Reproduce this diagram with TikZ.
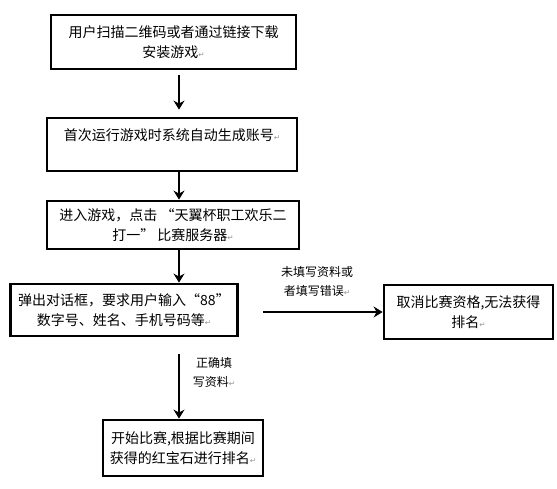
\documentclass[tikz,border=0pt]{standalone}
\usepackage{fontspec}
\setmainfont{Noto Sans CJK SC}
\newfontfamily\markfont{DejaVu Sans}
\usetikzlibrary{arrows.meta}
\definecolor{markGray}{RGB}{150,150,150}
\newcommand{\RetMark}{{\markfont\fontsize{7.5}{7.5}\selectfont\color{markGray}↵}}

\begin{document}
\begin{tikzpicture}[x=1pt,y=1pt,
  stepbox/.style={draw=black,line width=2.8pt,fill=white,align=center,inner sep=2pt,font=\fontsize{14}{20}\selectfont},
  flowarrow/.style={line width=2.8pt,-{Stealth[length=9pt,width=11pt,inset=3pt]}},
  notelabel/.style={align=center,inner sep=1pt,font=\fontsize{12}{19}\selectfont}]
\useasboundingbox (0,0) rectangle (557,-488);
\fill[white] (0,0) rectangle (557,-488);
\coordinate (flowcol) at (179,0);
\node[stepbox,minimum width=245,minimum height=54] (download) at (173.5,-42) {用户扫描二维码或者通过链接下载\\安装游戏\RetMark};
\node[stepbox,minimum width=250,minimum height=53] (account) at (172,-144.5) {首次运行游戏时系统自动生成账号\RetMark\\\mbox{}};
\node[stepbox,minimum width=252,minimum height=48] (enter) at (173,-225) {进入游戏，点击 “天翼杯职工欢乐二\\打一” 比赛服务器\RetMark};
\node[stepbox,minimum width=227,minimum height=52] (dialog) at (124,-310) {弹出对话框，要求用户输入“88”\\数字号、姓名、手机号码等\RetMark};
\node[stepbox,minimum width=169,minimum height=54] (cancel) at (468.5,-312) {取消比赛资格,无法获得\\排名\RetMark};
\node[stepbox,minimum width=160,minimum height=56] (rank) at (183,-448) {开始比赛,根据比赛期间\\获得的红宝石进行排名\RetMark};
\node[notelabel] (wrongnote) at (317,-281) {未填写资料或\\者填写错误\RetMark};
\node[notelabel] (rightnote) at (214,-372) {正确填\\写资料\RetMark};
\draw[flowarrow,shorten <=5pt,shorten >=7pt] (download.south -| flowcol) -- (account.north -| flowcol);
\draw[flowarrow] (account.south -| flowcol) -- (enter.north -| flowcol);
\draw[flowarrow] (enter.south -| flowcol) -- (dialog.north -| flowcol);
\draw[flowarrow,shorten <=17pt] (dialog.south -| flowcol) -- (rank.north -| flowcol);
\draw[flowarrow,shorten <=24pt] (dialog.east |- cancel.west) -- (cancel.west);
\end{tikzpicture}
\end{document}
